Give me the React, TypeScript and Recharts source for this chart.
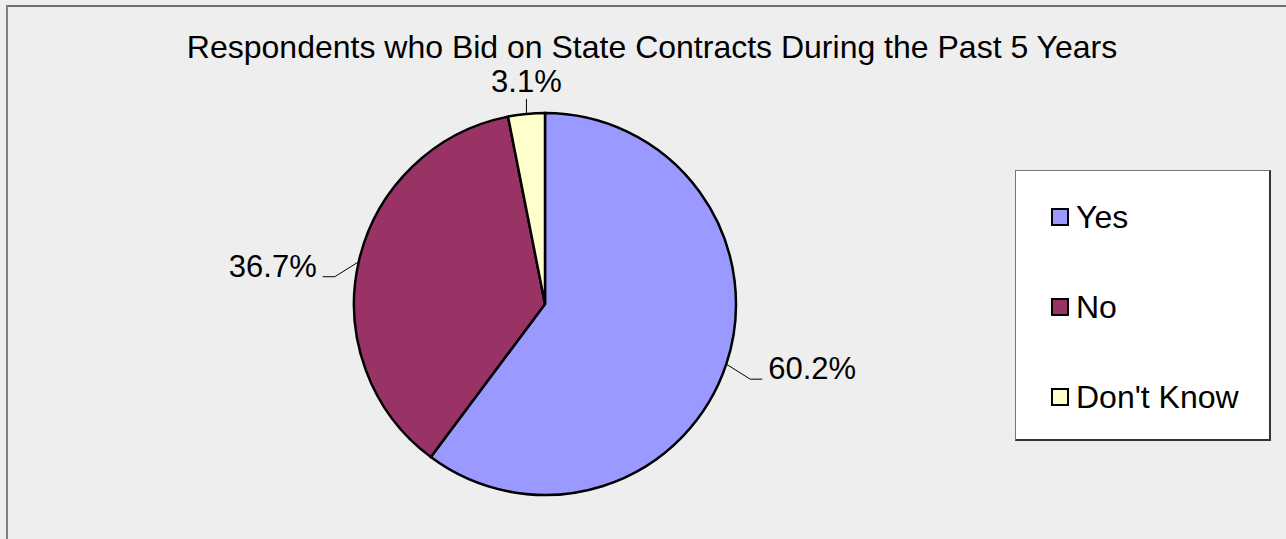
import { PieChart, Pie, Cell, Legend } from "recharts"

const categories = ["Yes", "No", "Don't Know"]
const shares = [60.2, 36.7, 3.1]
const COLORS = ["#9999ff", "#993366", "#ffffcc"]

const TITLE = "Respondents who Bid on State Contracts During the Past 5 Years"
const FONT = "'Liberation Sans', Arial, sans-serif"

const chartData = categories.map((name, i) => ({ name, value: shares[i], color: COLORS[i] }))

const RADIAN = Math.PI / 180

const renderLabel = ({ cx, cy, midAngle, outerRadius, value }: any) => {
  const c = Math.cos(-midAngle * RADIAN)
  const s = Math.sin(-midAngle * RADIAN)
  const x0 = cx + outerRadius * c
  const y0 = cy + outerRadius * s
  const text = `${Number(value).toFixed(1)}%`

  if (Math.abs(c) < 0.3) {
    // label straight above (or below) the slice
    const dir = s < 0 ? -1 : 1
    const y1 = y0 + 15 * dir
    return (
      <g>
        <line x1={x0} y1={y0} x2={x0} y2={y1} stroke="#000" strokeWidth={1} />
        <text x={x0} y={dir < 0 ? y1 - 7 : y1 + 28} textAnchor="middle" fontSize={31} fontFamily={FONT} fill="#000">
          {text}
        </text>
      </g>
    )
  }

  const sign = c > 0 ? 1 : -1
  const x1 = x0 + 24 * sign
  const y1 = y0 + 15
  const x2 = x1 + 12 * sign
  return (
    <g>
      <polyline points={`${x0},${y0} ${x1},${y1} ${x2},${y1}`} fill="none" stroke="#000" strokeWidth={1} />
      <text
        x={x2 + 6 * sign}
        y={y1}
        textAnchor={sign > 0 ? "start" : "end"}
        fontSize={31}
        fontFamily={FONT}
        fill="#000"
      >
        {text}
      </text>
    </g>
  )
}

const renderLegend = () => (
  <div
    style={{
      width: 256,
      height: 271,
      boxSizing: "border-box",
      background: "#fff",
      borderTop: "1px solid #777",
      borderLeft: "1px solid #777",
      borderRight: "2px solid #333",
      borderBottom: "2px solid #333",
      paddingTop: 1,
      fontFamily: FONT,
    }}
  >
    {chartData.map((entry) => (
      <div key={entry.name} style={{ height: 90, display: "flex", alignItems: "center", paddingLeft: 35 }}>
        <span
          style={{
            display: "inline-block",
            width: 18,
            height: 18,
            boxSizing: "border-box",
            background: entry.color,
            border: "2px solid #000",
            marginRight: 7,
          }}
        />
        <span style={{ fontSize: 32, color: "#000", lineHeight: "34px" }}>{entry.name}</span>
      </div>
    ))}
  </div>
)

export default function App() {
  return (
    <div style={{ position: "fixed", left: 0, top: 0, width: 1286, height: 539, background: "#eeeeee", overflow: "hidden" }}>
      <svg width={1286} height={539} style={{ position: "absolute", left: 0, top: 0 }}>
        <line x1={6} y1={6} x2={1286} y2={6} stroke="#444" strokeWidth={1.5} />
        <line x1={7} y1={6} x2={7} y2={539} stroke="#808080" strokeWidth={2} />
        <text x={652} y={58} textAnchor="middle" fontSize={32} fontFamily={FONT} fill="#000">
          {TITLE}
        </text>
      </svg>
      <div style={{ position: "absolute", left: 0, top: 0 }}>
        <PieChart width={1286} height={539} margin={{ top: 0, right: 0, bottom: 0, left: 0 }}>
          <Pie
            data={chartData}
            dataKey="value"
            nameKey="name"
            cx={545}
            cy={304}
            outerRadius={191}
            startAngle={90}
            endAngle={-270}
            stroke="#000"
            strokeWidth={2.5}
            labelLine={false}
            label={renderLabel}
            isAnimationActive={false}
          >
            {chartData.map((entry, index) => (
              <Cell key={`cell-${index}`} fill={entry.color} />
            ))}
          </Pie>
          <Legend
            content={renderLegend}
            wrapperStyle={{ position: "absolute", left: 1015, top: 170, width: 256, height: 271 }}
          />
        </PieChart>
      </div>
    </div>
  )
}
